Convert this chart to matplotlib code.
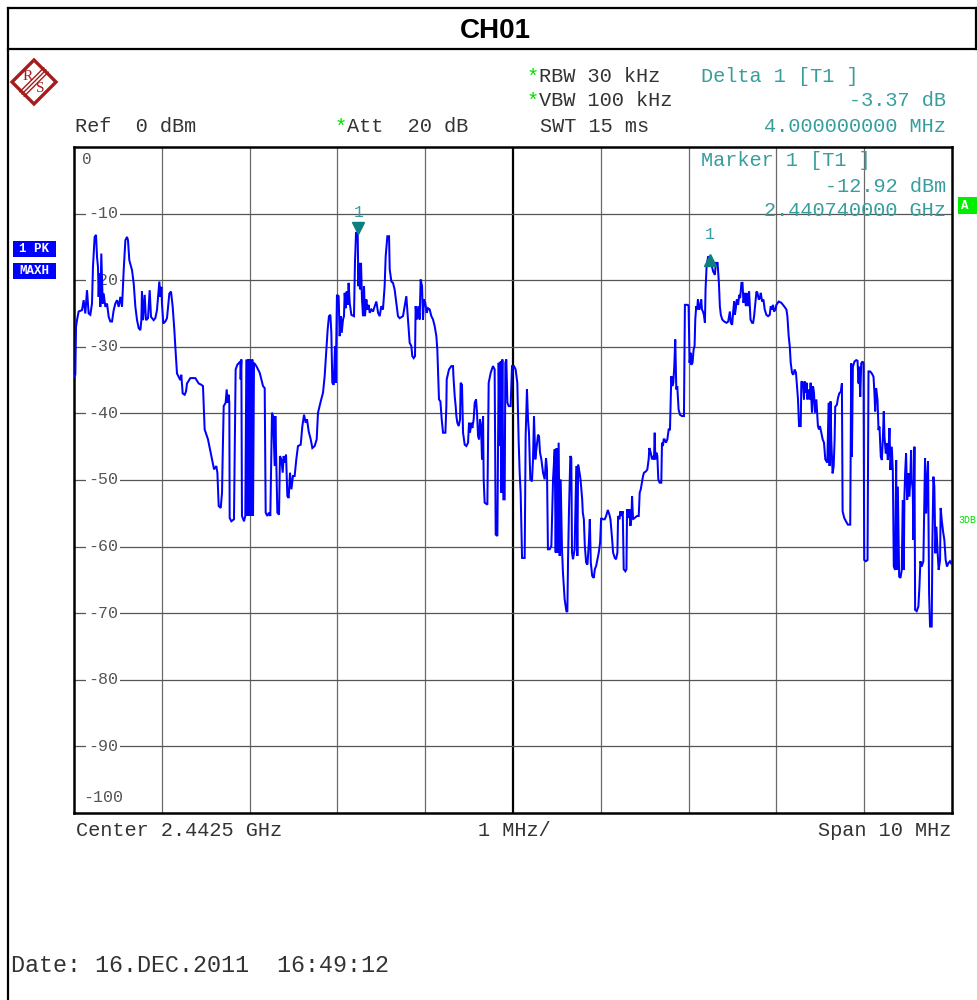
import matplotlib
matplotlib.use("Agg")
import matplotlib.pyplot as plt
import matplotlib.transforms as mtransforms
from matplotlib.patches import Rectangle, Polygon
from matplotlib.lines import Line2D

# ---- instrument settings ----
title = "CH01"
center_ghz = 2.4425
span_mhz = 10.0
ref_level_dbm = 0.0
db_per_div = 10.0
n_ydiv = 10
marker1_ghz = 2.44074
marker1_dbm = -12.92
delta1_mhz = 4.0
delta1_db = -3.37

# ---- max-hold trace (frequency offset from span start in MHz, level in dBm) ----
trace_offset_mhz = [
    0.000, 0.015, 0.023, 0.034, 0.053, 0.091, 0.110, 0.129, 0.148, 0.167, 0.186, 0.205, 0.216, 0.235,
    0.251, 0.262, 0.273, 0.281, 0.289, 0.300, 0.311, 0.327, 0.338, 0.357, 0.376, 0.395, 0.414, 0.433,
    0.452, 0.471, 0.490, 0.509, 0.528, 0.547, 0.566, 0.585, 0.604, 0.615, 0.630, 0.661, 0.680, 0.699,
    0.718, 0.737, 0.756, 0.767, 0.774, 0.786, 0.805, 0.820, 0.843, 0.862, 0.877, 0.907, 0.926, 0.945,
    0.972, 0.983, 0.995, 1.002, 1.017, 1.040, 1.059, 1.086, 1.105, 1.124, 1.143, 1.154, 1.173, 1.211,
    1.222, 1.238, 1.260, 1.276, 1.287, 1.325, 1.382, 1.420, 1.450,
    1.469, 1.488, 1.526, 1.564, 1.595, 1.621, 1.633, 1.648, 1.671, 1.686, 1.693, 1.705, 1.727, 1.739,
    1.750, 1.762, 1.769, 1.773, 1.792, 1.822, 1.841, 1.860, 1.894, 1.898, 1.906, 1.913, 1.936, 1.951,
    1.963, 1.974, 1.982, 1.993, 2.001, 2.012, 2.020, 2.031, 2.039, 2.050, 2.077, 2.115, 2.153, 2.172,
    2.183, 2.202, 2.221, 2.236, 2.255, 2.267, 2.286, 2.293, 2.305, 2.316, 2.335, 2.346, 2.362, 2.377,
    2.388, 2.400, 2.415, 2.430, 2.445, 2.460, 2.476, 2.494, 2.513, 2.532, 2.551, 2.582, 2.601, 2.620,
    2.639, 2.654, 2.673, 2.696, 2.715, 2.741, 2.764, 2.779, 2.810, 2.836, 2.855, 2.874,
    2.889, 2.904, 2.920, 2.931, 2.942, 2.958, 2.973, 2.980, 2.988, 2.995, 3.014, 3.026, 3.037, 3.049,
    3.064, 3.075, 3.083, 3.094, 3.106, 3.117, 3.128, 3.140, 3.159, 3.189, 3.200, 3.212, 3.231, 3.239,
    3.246, 3.257, 3.269, 3.280, 3.292, 3.303, 3.314, 3.330, 3.341, 3.356, 3.368, 3.387, 3.406, 3.425,
    3.444, 3.463, 3.482, 3.500, 3.519, 3.538, 3.550, 3.569, 3.588, 3.596, 3.615, 3.633, 3.652, 3.671,
    3.690, 3.709, 3.747, 3.766, 3.785, 3.804, 3.823, 3.842, 3.853, 3.869, 3.884, 3.891, 3.906, 3.922,
    3.937, 3.948, 3.964, 3.975, 3.986, 4.001, 4.017, 4.032, 4.051, 4.070, 4.089, 4.108, 4.127, 4.138,
    4.146, 4.157, 4.173, 4.188, 4.203, 4.230, 4.241, 4.245, 4.271, 4.298, 4.317,
    4.321, 4.336, 4.347, 4.355, 4.366, 4.381, 4.397, 4.404, 4.419, 4.431, 4.450, 4.469, 4.488, 4.499,
    4.510, 4.526, 4.537, 4.552, 4.564, 4.579, 4.590, 4.602, 4.613, 4.624, 4.636, 4.647, 4.659, 4.666,
    4.677, 4.708, 4.723, 4.746, 4.772, 4.791, 4.803, 4.822, 4.837, 4.848, 4.860, 4.867, 4.879, 4.890,
    4.905, 4.913, 4.924, 4.936, 4.951, 4.973, 4.989, 5.011, 5.030, 5.049, 5.065, 5.076, 5.087, 5.103,
    5.133, 5.144, 5.159, 5.171, 5.182, 5.197, 5.216, 5.228, 5.239, 5.254, 5.266, 5.285, 5.296, 5.308,
    5.323, 5.342, 5.361, 5.376, 5.387, 5.398, 5.418, 5.437, 5.456, 5.475, 5.486, 5.497, 5.505, 5.520,
    5.532, 5.543, 5.558, 5.569, 5.588, 5.608, 5.619, 5.627, 5.638, 5.653, 5.664, 5.672, 5.683, 5.702,
    5.721, 5.733,
    5.742, 5.758, 5.769, 5.788, 5.795, 5.807, 5.818, 5.833, 5.848, 5.864, 5.875, 5.886, 5.902, 5.920,
    5.932, 5.947, 5.962, 5.977, 5.992, 6.004, 6.023, 6.045, 6.061, 6.080, 6.098, 6.110, 6.129, 6.140,
    6.159, 6.174, 6.189, 6.197, 6.212, 6.223, 6.235, 6.250, 6.261, 6.280, 6.292, 6.299, 6.311, 6.326,
    6.337, 6.348, 6.356, 6.367, 6.386, 6.413, 6.432, 6.443, 6.455, 6.470, 6.481, 6.492, 6.515, 6.530,
    6.545, 6.553, 6.568, 6.583, 6.595, 6.606, 6.614, 6.621, 6.633, 6.644, 6.655, 6.670, 6.689, 6.697,
    6.708, 6.716, 6.727, 6.742, 6.758, 6.773, 6.788, 6.795, 6.803, 6.814, 6.826, 6.837, 6.848, 6.860,
    6.871, 6.886, 6.902, 6.924, 6.947, 6.958, 6.977, 6.992, 7.000, 7.011, 7.023, 7.030, 7.045, 7.057,
    7.068, 7.076, 7.087, 7.098, 7.106, 7.121, 7.133, 7.144, 7.152, 7.163, 7.174,
    7.186, 7.193, 7.205, 7.223, 7.242, 7.261, 7.280, 7.299, 7.311, 7.330, 7.345, 7.356, 7.367, 7.383,
    7.405, 7.432, 7.451, 7.470, 7.481, 7.496, 7.508, 7.519, 7.527, 7.538, 7.549, 7.564, 7.576, 7.587,
    7.602, 7.614, 7.625, 7.640, 7.652, 7.663, 7.678, 7.689, 7.705, 7.723, 7.735, 7.746, 7.761, 7.773,
    7.784, 7.799, 7.811, 7.822, 7.837, 7.852, 7.867, 7.886, 7.905, 7.924, 7.936, 7.951, 7.962, 7.973,
    7.989, 8.000, 8.027, 8.057, 8.087, 8.114, 8.125, 8.140, 8.152, 8.163, 8.178, 8.193, 8.208, 8.223,
    8.235, 8.246, 8.258, 8.277, 8.284, 8.303, 8.314, 8.322, 8.333, 8.345, 8.352, 8.367, 8.379, 8.390,
    8.405, 8.417, 8.428, 8.439, 8.455, 8.466, 8.473, 8.485, 8.496, 8.511, 8.527, 8.542, 8.557, 8.580,
    8.595, 8.606,
    8.617, 8.625, 8.640, 8.652, 8.663, 8.670, 8.689, 8.701, 8.716, 8.735, 8.746, 8.754, 8.773, 8.792,
    8.814, 8.841, 8.852, 8.860, 8.871, 8.890, 8.909, 8.924, 8.936, 8.943, 8.955, 8.966, 8.981, 8.992,
    9.000, 9.019, 9.038, 9.049, 9.068, 9.087, 9.106, 9.117, 9.125, 9.136, 9.152, 9.163, 9.174, 9.189,
    9.201, 9.212, 9.223, 9.231, 9.246, 9.258, 9.269, 9.277, 9.288, 9.299, 9.314, 9.326, 9.337, 9.352,
    9.364, 9.371, 9.383, 9.398, 9.413, 9.428, 9.439, 9.451, 9.458, 9.466, 9.477, 9.489, 9.496, 9.504,
    9.515, 9.527, 9.534, 9.542, 9.553, 9.561, 9.572, 9.580, 9.598, 9.617, 9.629, 9.640, 9.655, 9.674,
    9.686, 9.693, 9.705, 9.716, 9.727, 9.739, 9.750, 9.769, 9.777, 9.788, 9.799, 9.811, 9.822, 9.837,
    9.848, 9.864, 9.871, 9.883, 9.898, 9.913, 9.928, 9.943, 9.958, 9.977, 9.989, 10.000,
]
trace_dbm = [
    -34.5, -34.2, -27.0, -26.0, -24.7, -24.5, -23.0, -25.0, -21.5, -25.0, -25.2, -23.5, -18.0, -13.5,
    -13.2, -16.5, -18.0, -22.5, -19.0, -24.0, -16.0, -23.5, -22.0, -24.0, -23.5, -25.5, -26.2, -26.2,
    -24.5, -23.5, -23.0, -24.0, -22.5, -24.0, -18.5, -14.0, -13.5, -14.0, -17.0, -18.5, -20.5, -24.0,
    -26.0, -27.2, -27.5, -26.0, -21.7, -26.0, -22.2, -26.0, -25.7, -21.5, -25.5, -26.0, -25.7, -24.5,
    -20.2, -22.5, -21.0, -23.5, -26.5, -26.2, -25.7, -22.0, -21.7, -24.0, -27.5, -30.0, -34.0, -35.0,
    -34.2, -37.0, -37.2, -36.7, -35.5, -34.7, -34.7, -35.5, -35.7,
    -35.9, -42.4, -43.9, -46.4, -48.4, -47.9, -48.9, -53.9, -54.2, -51.9, -46.7, -38.9, -38.4, -36.4,
    -38.4, -37.2, -38.4, -55.7, -56.2, -55.9, -33.4, -32.7, -32.2, -34.9, -31.9, -55.4, -56.2, -55.4,
    -31.9, -55.4, -31.9, -55.4, -31.9, -43.4, -55.4, -31.9, -55.4, -32.4, -32.9, -33.9, -35.9, -36.2,
    -54.9, -55.4, -54.9, -55.4, -39.9, -40.4, -47.9, -40.4, -48.4, -54.9, -55.2, -46.4, -46.9, -48.9,
    -46.4, -47.4, -46.2, -52.4, -52.7, -48.9, -51.4, -49.4, -49.4, -46.9, -44.9, -44.7, -41.9, -40.2,
    -41.4, -40.9, -42.7, -43.9, -45.2, -44.9, -43.9, -39.9, -38.2, -36.9, -34.4, -30.4,
    -27.4, -25.4, -25.2, -27.9, -35.4, -35.7, -29.9, -35.4, -28.4, -22.2, -22.4, -28.4, -25.4, -27.9,
    -25.9, -25.4, -21.9, -24.2, -21.7, -23.7, -20.4, -23.4, -25.2, -25.4, -17.4, -12.9, -12.9, -20.9,
    -17.4, -21.4, -17.4, -22.9, -25.4, -20.9, -25.4, -22.9, -24.4, -23.7, -24.9, -24.4, -24.7, -23.9,
    -23.2, -24.9, -25.4, -23.9, -24.4, -20.9, -16.4, -13.4, -13.4, -18.4, -20.2, -20.4, -21.4, -23.4,
    -25.4, -25.7, -25.4, -23.9, -22.4, -25.9, -29.4, -29.9, -31.4, -31.7, -31.4, -23.9, -25.9, -23.9,
    -25.9, -19.9, -20.9, -25.9, -22.9, -23.4, -24.9, -24.2, -24.4, -25.4, -25.9, -26.9, -28.4, -30.4,
    -33.4, -37.9, -38.2, -40.9, -42.9, -42.9, -38.9, -34.9, -33.4, -32.9, -32.9,
    -34.3, -37.4, -38.9, -40.4, -41.4, -41.9, -40.9, -35.4, -35.7, -42.9, -44.7, -44.9, -44.4, -41.4,
    -42.9, -41.4, -42.2, -40.9, -38.4, -37.9, -39.9, -43.4, -43.9, -40.9, -41.9, -46.9, -40.4, -49.9,
    -53.4, -53.7, -35.4, -33.9, -32.9, -33.4, -58.2, -58.4, -32.4, -44.9, -32.2, -51.9, -31.9, -52.9,
    -52.9, -32.4, -31.9, -38.4, -38.9, -38.9, -32.9, -32.9, -33.4, -35.4, -44.4, -48.9, -51.9, -61.7,
    -61.7, -43.4, -36.4, -40.9, -42.9, -49.9, -50.2, -46.9, -40.4, -46.9, -45.4, -43.2, -43.4, -45.9,
    -46.9, -48.9, -49.9, -46.7, -48.4, -60.4, -60.4, -59.9, -49.9, -45.4, -60.9, -45.2, -60.9, -44.4,
    -61.4, -49.9, -60.4, -63.9, -67.9, -69.7, -69.8, -61.9, -54.4, -46.4, -46.7, -60.9, -61.9, -60.4,
    -47.9, -61.4,
    -47.7, -48.9, -49.9, -52.9, -54.9, -55.9, -59.9, -62.4, -62.7, -59.4, -55.9, -62.4, -64.4, -64.7,
    -63.4, -62.9, -61.9, -60.9, -59.4, -55.7, -55.9, -55.9, -55.4, -54.5, -55.2, -55.9, -58.9, -60.9,
    -61.7, -61.9, -60.9, -55.4, -55.9, -54.7, -55.4, -54.7, -63.4, -63.7, -63.4, -54.4, -55.7, -54.4,
    -56.9, -55.9, -52.4, -55.9, -55.7, -55.4, -55.4, -51.9, -51.4, -50.2, -49.4, -48.9, -48.7, -48.4,
    -46.9, -45.2, -45.9, -46.9, -46.4, -46.9, -42.9, -46.9, -45.9, -46.4, -49.9, -50.4, -50.4, -44.4,
    -44.9, -43.9, -43.9, -44.4, -43.9, -42.4, -42.4, -38.9, -34.4, -35.9, -35.4, -32.9, -28.9, -36.4,
    -35.9, -39.4, -40.2, -40.4, -40.4, -23.7, -23.7, -23.7, -23.9, -32.4, -30.9, -32.7, -32.4, -30.4,
    -29.9, -25.9, -23.9, -24.4, -22.9, -24.4, -23.9, -22.9, -24.4, -24.7, -25.2,
    -26.4, -21.4, -17.9, -16.4, -16.9, -17.7, -18.7, -19.2, -17.4, -17.4, -20.4, -23.9, -25.2, -25.9,
    -26.2, -26.4, -26.2, -24.7, -26.4, -26.7, -24.7, -23.2, -25.2, -24.2, -22.9, -23.7, -22.2, -22.7,
    -20.4, -20.4, -23.4, -21.9, -23.9, -21.9, -23.9, -21.7, -25.9, -26.4, -26.4, -25.4, -23.4, -21.7,
    -21.9, -22.9, -22.7, -21.9, -23.2, -22.9, -24.4, -25.2, -25.4, -25.2, -23.9, -24.4, -23.7, -24.7,
    -24.4, -23.7, -23.2, -23.4, -23.9, -24.4, -25.4, -28.4, -29.9, -32.4, -33.9, -34.2, -33.4, -33.9,
    -35.9, -37.9, -41.9, -41.9, -35.2, -35.4, -37.9, -35.2, -36.9, -35.4, -37.9, -36.4, -37.9, -35.4,
    -39.9, -35.9, -36.9, -39.9, -37.9, -40.4, -41.9, -42.4, -41.9, -42.9, -43.9, -44.4, -46.9, -47.4,
    -38.4, -47.9,
    -38.2, -44.0, -49.0, -48.0, -44.0, -39.0, -38.7, -37.7, -37.0, -36.7, -35.5, -54.7, -55.7, -56.2,
    -56.7, -56.7, -32.5, -46.5, -33.0, -32.2, -32.0, -32.1, -35.5, -33.0, -37.5, -32.5, -32.2, -32.5,
    -62.0, -62.2, -62.0, -33.7, -33.7, -34.0, -34.5, -37.0, -39.7, -36.2, -38.0, -42.5, -42.0, -46.5,
    -47.0, -44.0, -39.7, -43.5, -46.0, -44.5, -47.0, -45.5, -42.2, -48.5, -45.0, -48.5, -63.0, -63.5,
    -47.0, -63.5, -51.0, -64.5, -64.7, -63.5, -53.0, -63.5, -52.5, -49.0, -46.0, -53.0, -52.0, -49.0,
    -52.5, -49.0, -45.5, -50.0, -51.5, -59.0, -45.0, -69.5, -69.7, -69.0, -66.0, -62.2, -63.0, -62.2,
    -52.0, -46.7, -55.0, -50.0, -47.2, -67.0, -72.0, -72.0, -59.0, -49.5, -51.0, -61.0, -57.0, -61.0,
    -63.5, -62.0, -54.2, -56.0, -57.7, -59.0, -62.0, -63.0, -62.5, -62.2, -62.5, -62.3,
]

# ---- annotation texts ----
trace_tags = ["1 PK", "MAXH"]
center_text = f"Center {center_ghz} GHz"
div_text = "1 MHz/"
span_text = f"Span {span_mhz:g} MHz"
date_text = "Date: 16.DEC.2011  16:49:12"

W, H = 977, 1000
MONO = "Liberation Mono"
TEAL = "#379e9e"
MARK = "#0e7f7f"
GREEN = "#00dd00"
INK = "#333333"

fig = plt.figure(figsize=(W / 100, H / 100), dpi=100)
fig.patch.set_facecolor("white")


def fx(px):
    return px / W


def fy(py):
    return 1 - py / H


def ftext(px, py, s, **kw):
    kw.setdefault("family", MONO)
    kw.setdefault("fontsize", 14.6)
    kw.setdefault("color", INK)
    kw.setdefault("va", "center")
    fig.text(fx(px), fy(py), s, **kw)


# outer frame and title bar
for xs, ys in [([8, 8], [8, 1000]), ([8, 976], [8, 8]), ([8, 976], [49, 49]), ([976, 976], [8, 49])]:
    fig.add_artist(Line2D([fx(x) for x in xs], [fy(y) for y in ys], color="black", lw=1.6))
fig.text(fx(495), fy(31), title, family="Liberation Sans", weight="bold", fontsize=20,
         ha="center", va="center", color="black")

# manufacturer logo
cx, cy, r = 34, 82, 22
logo_red = "#a51c1c"
fig.add_artist(Polygon([(fx(cx), fy(cy - r)), (fx(cx + r), fy(cy)), (fx(cx), fy(cy + r)), (fx(cx - r), fy(cy))],
                       closed=True, facecolor="white", edgecolor=logo_red, lw=2.4))
for d in (-2.2, 0, 2.2):
    fig.add_artist(Line2D([fx(cx + 12 + d), fx(cx - 12 + d)], [fy(cy - 12 + d), fy(cy + 12 + d)],
                          color=logo_red, lw=1.0))
fig.text(fx(cx - 6), fy(cy - 6), "R", family="Liberation Serif", fontsize=11, color=logo_red,
         ha="center", va="center")
fig.text(fx(cx + 6), fy(cy + 7), "S", family="Liberation Serif", fontsize=11, color=logo_red,
         ha="center", va="center")

# header: settings and delta marker readout
ftext(75, 127, f"Ref  {ref_level_dbm:g} dBm")
ftext(335, 127, "*", color=GREEN)
ftext(347, 127, "Att  20 dB")
ftext(527, 77, "*", color=GREEN)
ftext(539, 77, "RBW 30 kHz")
ftext(527, 101, "*", color=GREEN)
ftext(539, 101, "VBW 100 kHz")
ftext(540, 127, "SWT 15 ms")
ftext(701, 77, "Delta 1 [T1 ]", color=TEAL)
ftext(946, 101, f"{delta1_db:.2f} dB", color=TEAL, ha="right")
ftext(946, 127, f"{delta1_mhz:.9f} MHz", color=TEAL, ha="right")

# trace tags on the left
for i, tag in enumerate(trace_tags):
    top = 241 + i * 22
    fig.add_artist(Rectangle((fx(13), fy(top + 16)), fx(43), 16 / H, facecolor="#0000ff", edgecolor="none"))
    fig.text(fx(34), fy(top + 8), tag, family=MONO, weight="bold", fontsize=9, color="white",
             ha="center", va="center")

# right-hand status indicators
fig.add_artist(Rectangle((fx(958), fy(214)), fx(19), 17 / H, facecolor="#00ee00", edgecolor="none"))
fig.text(fx(961), fy(206), "A", family=MONO, weight="bold", fontsize=9, color="white", va="center")
ftext(958, 520, "3DB", color="#00dd00", fontsize=7.2)

# ---- spectrum display ----
ax = fig.add_axes([fx(74), fy(813), fx(952 - 74), (813 - 147) / H])
start_mhz = center_ghz * 1000 - span_mhz / 2
freq_mhz = [start_mhz + f for f in trace_offset_mhz]
ax.set_xlim(start_mhz, start_mhz + span_mhz)
ax.set_ylim(ref_level_dbm - n_ydiv * db_per_div, ref_level_dbm)
ax.set_xticks([])
ax.set_yticks([])
for s in ax.spines.values():
    s.set_linewidth(1.8)
    s.set_color("black")

for k in range(1, 10):
    xv = start_mhz + k * span_mhz / 10
    if k == 5:
        ax.axvline(xv, color="black", lw=1.6, zorder=1)
    else:
        ax.axvline(xv, color="#6a6a6a", lw=0.9, zorder=1)
for k in range(1, n_ydiv):
    ax.axhline(ref_level_dbm - k * db_per_div, color="#555555", lw=0.9, zorder=1)

# level labels inside the grid
lab_x = start_mhz + 0.33
ax.text(start_mhz + 0.15, ref_level_dbm - 1.9, f"{ref_level_dbm:g}", family=MONO, fontsize=11.5,
        color="#555555", ha="center", va="center", zorder=2)
for k in range(1, n_ydiv + 1):
    lv = ref_level_dbm - k * db_per_div
    ax.text(lab_x, lv + (2.3 if k == n_ydiv else 0), f"{lv:g}", family=MONO, fontsize=12,
            color="#555555", ha="center", va="center", zorder=2,
            bbox=dict(facecolor="white", edgecolor="none", pad=1.5))

ax.plot(freq_mhz, trace_dbm, color="#0000ff", lw=1.45, zorder=3, solid_joinstyle="miter")

# markers
m1_x = marker1_ghz * 1000
d1_x = m1_x + delta1_mhz
d1_y = marker1_dbm + delta1_db
above = mtransforms.offset_copy(ax.transData, fig=fig, x=0, y=5, units="dots")
below = mtransforms.offset_copy(ax.transData, fig=fig, x=0, y=-5, units="dots")
ax.plot([m1_x], [marker1_dbm], marker="v", markersize=8, color=MARK, transform=above, zorder=4)
ax.plot([d1_x], [d1_y], marker="^", markersize=8, color=MARK, transform=below, zorder=4)
lab1 = mtransforms.offset_copy(ax.transData, fig=fig, x=0, y=21, units="dots")
ax.text(m1_x, marker1_dbm, "1", transform=lab1, family=MONO, fontsize=12, color=TEAL,
        ha="center", va="center", zorder=4)
ax.text(d1_x, d1_y, "1", transform=lab1, family=MONO, fontsize=12, color=TEAL,
        ha="center", va="center", zorder=4)

# marker readout inside the display
ftext(701, 161, "Marker 1 [T1 ]", color=TEAL)
ftext(946, 186, f"{marker1_dbm:.2f} dBm", color=TEAL, ha="right")
ftext(946, 211, f"{marker1_ghz:.9f} GHz", color=TEAL, ha="right")

# footer
ftext(76, 831, center_text)
ftext(514, 831, div_text, ha="center")
ftext(951, 831, span_text, ha="right")
ftext(11, 965, date_text, fontsize=16.8)

fig.savefig("out.png", dpi=100, facecolor="white")
